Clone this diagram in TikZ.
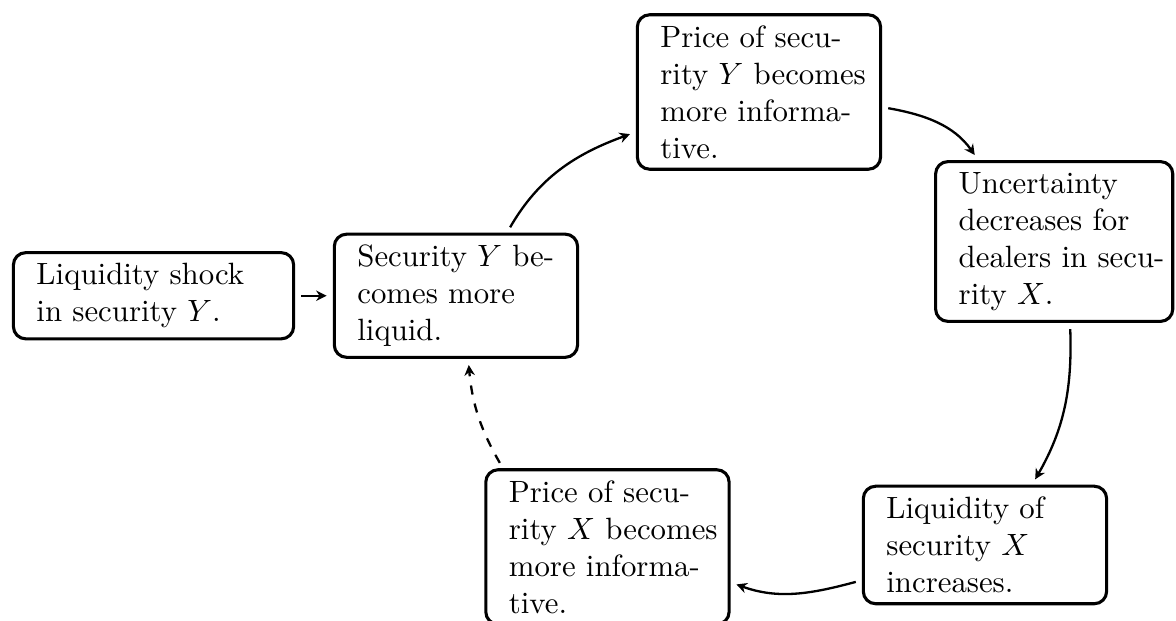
\documentclass[tikz,border=0pt]{standalone}
\usepackage{amsmath}
\usepackage{amssymb}
\usepackage{tikz}
\usetikzlibrary{arrows.meta}

\tikzset{
	stage/.style={draw, line width=1pt, rounded corners=4pt, align=left, text width=64pt, inner xsep=7.5pt, inner ysep=3.5pt},
	flow/.style={-{Stealth[length=3.4pt,width=3.4pt]}, line width=0.75pt, shorten >=2pt, shorten <=2pt}
}

\begin{document}
\begin{tikzpicture}
	\useasboundingbox (0,0) rectangle (13.42,-7.086);

	% the chain of effects
	\node[stage, text width=76pt] (shock) at (1.752,-3.375) {\mbox{Liquidity shock}\\\mbox{in security $Y$.}};
	\node[stage] (liqY) at (5.203,-3.375) {\mbox{Security $Y$ be-}\\\mbox{comes more}\\liquid.};
	\node[stage] (infoY) at (8.661,-1.050) {\mbox{Price of secu-}\\\mbox{rity $Y$ becomes}\\\mbox{more informa-}\\tive.};
	\node[stage, text width=62pt] (uncert) at (12.03,-2.756) {Uncertainty\\\mbox{decreases for}\\\mbox{dealers in secu-}\\\mbox{rity $X$.}};
	\node[stage] (liqX) at (11.240,-6.219) {\mbox{Liquidity of}\\\mbox{security $X$}\\increases.};
	\node[stage] (infoX) at (6.932,-6.242) {\mbox{Price of secu-}\\\mbox{rity $X$ becomes}\\\mbox{more informa-}\\tive.};

	\draw[flow] (shock) -- (liqY);
	\draw[flow] (liqY.51) to[out=60, in=200] (infoY.198);
	\draw[flow] (infoY.-7) to[out=-10, in=125] (uncert.133);
	\draw[flow] (uncert.-79) to[out=-88, in=60] (liqX.52);
	\draw[flow] (liqX.196) to[out=195, in=-20] (infoX.-16);
	\draw[flow, dashed] (infoX.143) to[out=120, in=-85] (liqY.-79);
\end{tikzpicture}
\end{document}
